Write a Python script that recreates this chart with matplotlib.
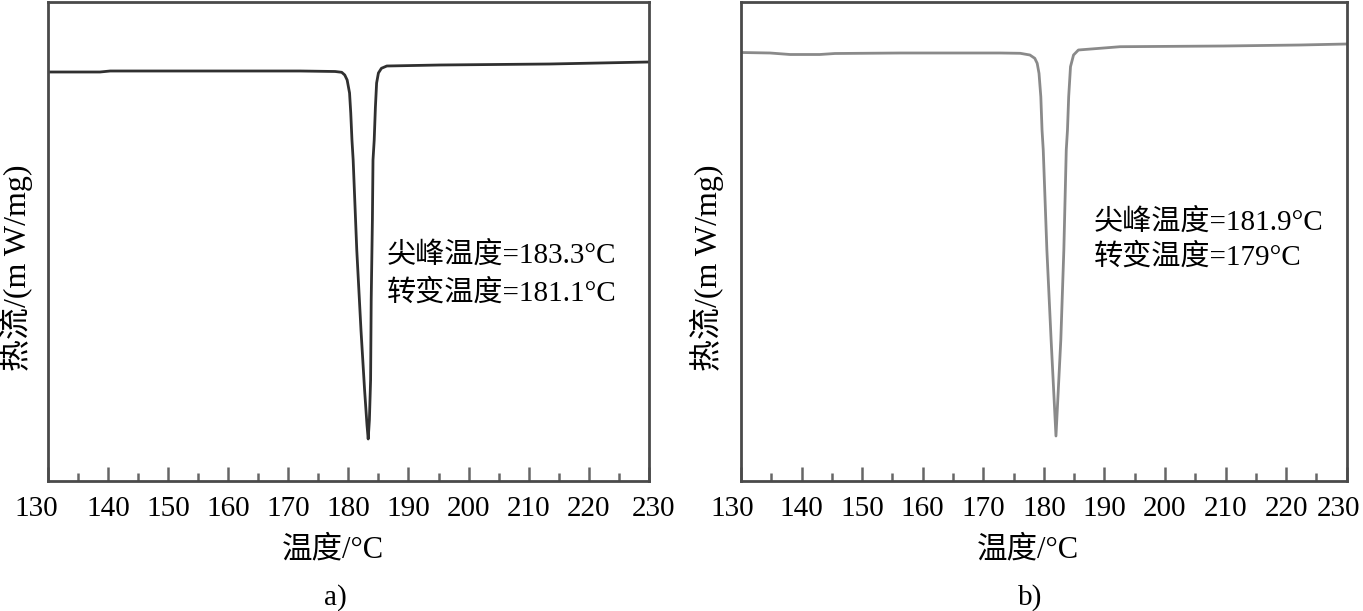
import matplotlib
matplotlib.use("Agg")
import matplotlib.pyplot as plt
import matplotlib.transforms as mtransforms
from matplotlib.ticker import MultipleLocator

plt.rcParams['font.family'] = ['Liberation Serif', 'Noto Sans CJK SC', 'DejaVu Sans']

# ---- data (arbitrary heat-flow units) ----
temp_a = [130.0, 138.7, 140.4, 155.3, 172.0, 177.8, 178.9, 179.4, 179.8, 180.2, 180.4,
          180.6, 180.8, 181.4, 182.1, 182.7, 183.1, 183.3, 183.5, 183.7, 183.8, 184.0,
          184.1, 184.3, 184.5, 184.7, 185.0, 185.5, 186.4, 195.2, 213.5, 230.0]
flow_a = [4.09, 4.09, 4.10, 4.10, 4.10, 4.095, 4.087, 4.06, 4.01, 3.88, 3.68,
          3.41, 3.21, 2.31, 1.51, 0.91, 0.56, 0.42, 0.61, 1.01, 1.81, 2.61,
          3.21, 3.41, 3.74, 3.98, 4.08, 4.127, 4.15, 4.16, 4.17, 4.19]

temp_b = [130.0, 134.8, 138.1, 143.0, 145.5, 156.3, 172.8, 176.1, 177.7, 178.5, 178.9,
          179.2, 179.5, 179.7, 179.9, 180.5, 181.2, 181.7, 182.0, 182.3, 182.8, 183.3,
          183.7, 183.9, 184.1, 184.4, 184.9, 185.7, 192.6, 209.7, 222.3, 230.0]
flow_b = [4.285, 4.28, 4.265, 4.265, 4.275, 4.28, 4.28, 4.277, 4.26, 4.227, 4.177,
          4.077, 3.843, 3.51, 3.31, 2.31, 1.41, 0.81, 0.45, 0.81, 1.41, 2.31,
          3.31, 3.51, 3.843, 4.143, 4.26, 4.31, 4.343, 4.35, 4.36, 4.37]

xticks = [130, 140, 150, 160, 170, 180, 190, 200, 210, 220, 230]
xlabel = "温度/°C"
ylabel = "热流/(m W/mg)"
notes_a = ["尖峰温度=183.3°C", "转变温度=181.1°C"]
notes_b = ["尖峰温度=181.9°C", "转变温度=179°C"]

fig = plt.figure(figsize=(13.63, 6.11), dpi=100)
ax1 = fig.add_axes([47.7 / 1363, 130 / 611, 601.3 / 1363, 479 / 611])
ax2 = fig.add_axes([741 / 1363, 130 / 611, 605.7 / 1363, 479 / 611])

def style(ax, xlab_x, ylab_x, first_dx, last_dx):
    ax.set_xlim(130, 230)
    ax.set_ylim(0, 4.79)
    ax.set_xticks(xticks)
    ax.xaxis.set_minor_locator(MultipleLocator(5))
    ax.set_yticks([])
    ax.tick_params(axis='x', which='major', direction='in', length=10, width=1.8,
                   color='#666666', labelsize=21, pad=11)
    ax.tick_params(axis='x', which='minor', direction='in', length=6, width=1.8,
                   color='#666666')
    for s in ax.spines.values():
        s.set_linewidth(2.0)
        s.set_color('#4a4a4a')
    ax.set_xlabel(xlabel, fontsize=22)
    ax.xaxis.set_label_coords(xlab_x, -0.113)
    ax.set_ylabel(ylabel, fontsize=23)
    ax.yaxis.set_label_coords(ylab_x, 0.445)
    labels = ax.xaxis.get_majorticklabels()
    for lab, dx in ((labels[0], first_dx), (labels[-1], last_dx)):
        off = mtransforms.ScaledTranslation(dx / 100.0, 0, fig.dpi_scale_trans)
        lab.set_transform(lab.get_transform() + off)

ax1.plot(temp_a, flow_a, color='#303030', lw=2.0)
ax2.plot(temp_b, flow_b, color='#8a8a8a', lw=2.0)
style(ax1, 0.475, -0.024, -11, 4)
style(ax2, 0.473, -0.028, -9, -8)

ax1.text(186.4, 2.26, notes_a[0], fontsize=21, va='center', ha='left')
ax1.text(186.4, 1.88, notes_a[1], fontsize=21, va='center', ha='left')
ax2.text(188.2, 2.59, notes_b[0], fontsize=21, va='center', ha='left')
ax2.text(188.2, 2.24, notes_b[1], fontsize=21, va='center', ha='left')

fig.text(335 / 1363, 1 - 598 / 611, "a)", fontsize=21, ha='center', va='center')
fig.text(1030 / 1363, 1 - 598 / 611, "b)", fontsize=21, ha='center', va='center')

fig.savefig("out.png", dpi=100)
